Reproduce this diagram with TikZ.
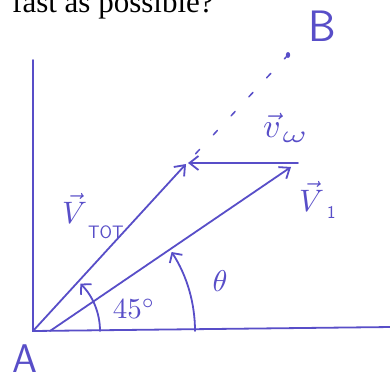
\documentclass[tikz,border=0pt]{standalone}
\usepackage{fontspec}
\setmainfont{Liberation Serif}
\usetikzlibrary{arrows.meta}
\definecolor{pen}{RGB}{88,78,200}
\tikzset{
  ink/.style={draw=pen, line width=1.8pt, line cap=round},
  vec/.style={ink, -{Straight Barb[length=9pt,width=14pt,line width=1.8pt]}},
  arcvec/.style={ink, -{Straight Barb[length=7pt,width=15pt,line width=1.8pt]}},
  lbl/.style={text=pen, inner sep=0pt}
}
\newcommand{\subtxt}[1]{{\sffamily\fontsize{18}{18}\selectfont #1}}
\begin{document}
\begin{tikzpicture}[x=1pt,y=-1pt]
\useasboundingbox (0,0) rectangle (390,382);
\clip (0,0) rectangle (390,382);
\fill[white] (0,0) rectangle (390,382);
% heading
\node[anchor=base west, inner sep=0pt, font=\fontsize{31}{31}\selectfont] (head) at (12,13) {fast as possible?};
% points
\coordinate (A) at (33,331);
\coordinate (ytop) at (33,60);
\coordinate (xend) at (392,327);
\coordinate (Vtip) at (186,164);
\coordinate (V1s) at (50,331);
\coordinate (V1tip) at (291,167);
\coordinate (Vws) at (298,163);
\coordinate (Vwtip) at (188,163);
\coordinate (Bdot) at (288,55);
% axes
\draw[ink] (ytop) -- (A) -- (xend);
% vectors
\draw[vec] (A) -- (Vtip);
\draw[vec] (V1s) -- (V1tip);
\draw[vec] (Vws) -- (Vwtip);
% dashed continuation to B
\draw[ink, line width=1.5pt, dash pattern=on 6pt off 20pt, dash phase=-14pt] (Vtip) -- (Bdot);
\fill[pen] (Bdot) ellipse[x radius=2.2pt, y radius=3pt];
% angle arcs
\draw[arcvec] ([shift={(0:67)}]A) arc[start angle=0, end angle=-45, radius=67];
\draw[arcvec] ([shift={(0:145)}]V1s) arc[start angle=0, end angle=-33, radius=145];
% labels
\node[lbl, font=\fontsize{40}{40}\selectfont\sffamily] (lA) at (25,359) {A};
\node[lbl, font=\fontsize{44}{44}\selectfont\sffamily] (lB) at (322,26) {B};
\node[lbl, anchor=base west] (lVtot) at (62,223) {\scalebox{3.1}{$\vec{V}$}\hspace{1pt}\raisebox{-15pt}{\subtxt{TOT}}};
\node[lbl, anchor=base west] (lVw) at (263,138) {\scalebox{3.4}{$\vec{v}$}\hspace{2pt}\raisebox{-5pt}{\scalebox{3.6}[2.4]{$\omega$}}};
\node[lbl, anchor=base west] (lV1) at (299,211) {\scalebox{3.1}{$\vec{V}$}\hspace{3pt}\raisebox{-7pt}{\subtxt{1}}};
\node[lbl] (lth) at (220,281) {\scalebox{3.0}{$\theta$}};
\node[lbl] (l45) at (134,309) {\scalebox{2.9}{$45^{\circ}$}};
\end{tikzpicture}
\end{document}
